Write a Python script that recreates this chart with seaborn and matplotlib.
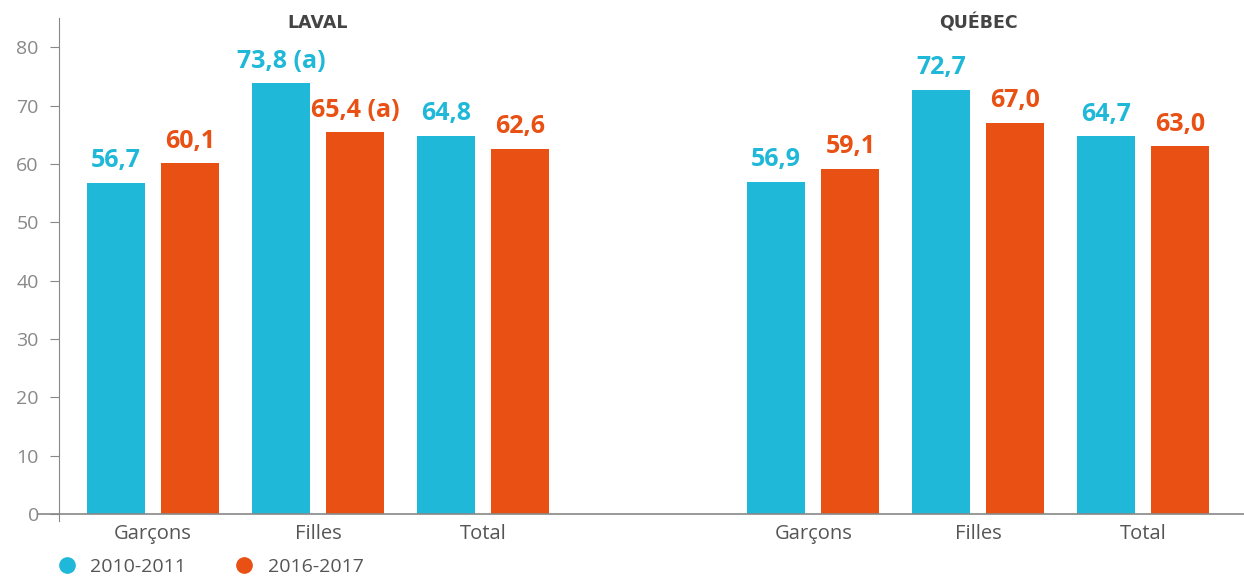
import pandas as pd
import seaborn as sns
import matplotlib.pyplot as plt
from matplotlib.lines import Line2D

# data
regions = ["LAVAL", "QUÉBEC"]
sexes = ["Garçons", "Filles", "Total"]
periods = ["2010-2011", "2016-2017"]
laval_2010 = [56.7, 73.8, 64.8]
laval_2016 = [60.1, 65.4, 62.6]
quebec_2010 = [56.9, 72.7, 64.7]
quebec_2016 = [59.1, 67.0, 63.0]
laval_notes = ["", " (a)", ""]
quebec_notes = ["", "", ""]

colors = ["#1FB8D8", "#E85014"]

rows = []
for reg, v10, v16, notes in [("LAVAL", laval_2010, laval_2016, laval_notes),
                             ("QUÉBEC", quebec_2010, quebec_2016, quebec_notes)]:
    for s, a, b, n in zip(sexes, v10, v16, notes):
        rows.append({"groupe": reg + " " + s, "periode": periods[0], "valeur": a, "note": n})
        rows.append({"groupe": reg + " " + s, "periode": periods[1], "valeur": b, "note": n})
df = pd.DataFrame(rows)

# empty slot between the two regions
order = ["LAVAL " + s for s in sexes] + ["_vide"] + ["QUÉBEC " + s for s in sexes]

plt.rcParams['font.family'] = ['Open Sans', 'DejaVu Sans']
fig = plt.figure(figsize=(12.44, 5.83), dpi=100)
ax = fig.add_axes([0.0474, 0.1063, 0.9526, 0.8628])

sns.barplot(data=df, x="groupe", y="valeur", hue="periode", order=order,
            hue_order=periods, palette=colors, width=0.9, gap=0.22,
            saturation=1, linewidth=0, ax=ax)

ax.set_ylim(-1.2, 85)
ax.set_xlim(-0.57, 6.61)
ax.set_yticks(range(0, 81, 10))
ax.set_xticks([0, 1, 2, 4, 5, 6])
ax.set_xticklabels(sexes + sexes)
ax.set_xlabel("")
ax.set_ylabel("")

for side in ["top", "right", "bottom"]:
    ax.spines[side].set_visible(False)
ax.spines["left"].set_color("#888888")
ax.axhline(0, xmin=-0.018, xmax=1, color="#888888", lw=1.2, clip_on=False)

ax.tick_params(axis="y", length=6.5, color="#888888", labelcolor="#888888", labelsize=14, pad=8)
ax.tick_params(axis="x", length=0, labelcolor="#555555", labelsize=14.5, pad=2)

# value labels
for cont, per, col in zip(ax.containers, periods, colors):
    sub = df[df["periode"] == per].set_index("groupe")
    labs = []
    for g in [o for o in order if o != "_vide"]:
        v = sub.loc[g, "valeur"]
        labs.append(f"{v:.1f}".replace(".", ",") + sub.loc[g, "note"])
    ax.bar_label(cont, labels=labs, padding=7, color=col, fontsize=18, fontweight="bold")

for pos, reg in zip([1, 5], regions):
    ax.text(pos, 84.1, reg, ha="center", va="center", fontsize=12.5, fontweight="bold",
            color="#444444", family="DejaVu Sans")

ax.legend_.remove()
handles = [Line2D([], [], marker="o", ls="", markersize=11, color=c) for c in colors]
fig.legend(handles, periods, loc="lower left", bbox_to_anchor=(0.024, -0.018), ncol=2,
           frameon=False, fontsize=14, labelcolor="#555555", handletextpad=0.2,
           columnspacing=2.0)

fig.savefig("out.png", dpi=100)
